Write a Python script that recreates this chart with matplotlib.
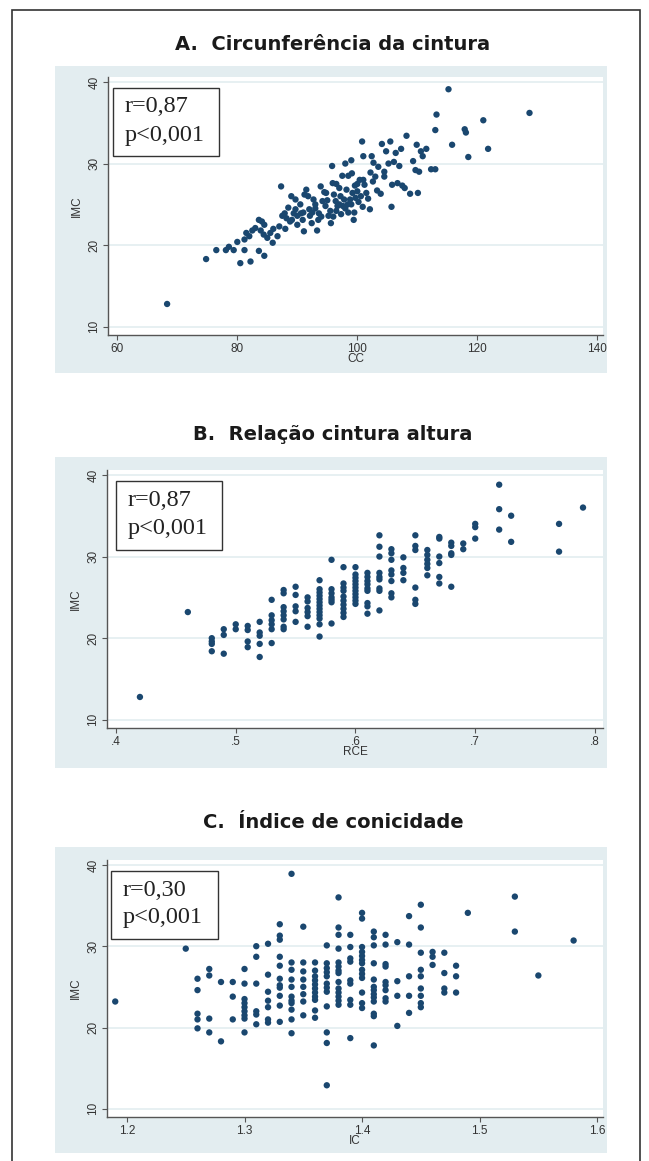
import matplotlib
matplotlib.use("Agg")
import matplotlib.pyplot as plt
from matplotlib.patches import Rectangle

# ---- data ----
# A. circunferencia da cintura (CC) x IMC
cc = [68.3, 74.8, 76.5, 78.1, 78.6, 79.4, 80.0, 80.5, 81.2, 82.2, 83.6, 84.5,
      81.5, 82.0, 82.5, 81.2, 83.0, 83.6, 84.1, 84.5, 83.9, 84.4, 85.0, 85.9,
      85.5, 86.7, 87.0, 87.3, 87.5, 87.9, 88.2, 88.8, 88.5, 89.1, 89.4, 89.7,
      90.0, 89.7, 90.5, 90.6, 90.9, 91.1, 91.2, 91.5, 91.8, 92.0, 92.1, 92.4,
      92.7, 93.0, 93.3, 93.5, 93.6, 93.9, 94.2, 94.7, 94.8, 95.2, 95.5, 95.6,
      95.8, 95.9, 96.1, 96.4, 96.5, 96.7, 97.0, 97.2, 97.3, 97.6, 97.8, 98.0,
      98.2, 98.4, 98.5, 98.8, 99.0, 99.1, 99.2, 99.4, 99.6, 99.7, 100.0, 100.2,
      100.4, 100.6, 100.8, 100.9, 101.0, 101.2, 101.5, 101.8, 102.1, 102.2, 102.4, 102.6,
      102.7, 103.0, 103.3, 103.9, 104.1, 104.5, 104.8, 105.2, 105.5, 105.7, 105.8, 106.1,
      106.4, 106.7, 107.0, 107.3, 107.5, 107.9, 108.2, 108.8, 109.3, 109.7, 109.9, 110.1,
      110.3, 110.6, 110.9, 111.5, 112.3, 113.0, 113.0, 113.2, 115.2, 115.8, 117.9, 118.1,
      118.5, 121.0, 121.8, 128.7,
      93.0, 94.0, 95.0, 96.0, 97.0, 98.0, 99.0, 92.5, 91.0, 90.0, 88.0, 86.0,
      89.0, 94.5, 96.5, 98.5, 100.0, 101.0, 97.5, 99.5, 103.5, 104.5]
imc_cc = [12.8, 18.3, 19.4, 19.4, 19.8, 19.4, 20.4, 17.8, 19.4, 18.0, 19.3, 18.7,
          21.5, 21.1, 21.8, 20.7, 22.1, 23.1, 22.9, 22.5, 21.8, 21.3, 20.9, 20.3,
          21.5, 21.1, 22.3, 27.2, 23.6, 23.9, 23.3, 22.9, 24.6, 23.1, 23.9, 24.4,
          23.6, 25.6, 25.0, 23.9, 23.1, 21.7, 26.2, 26.8, 26.0, 24.4, 23.6, 22.7,
          25.6, 25.0, 21.8, 23.1, 23.9, 27.2, 25.4, 24.8, 26.4, 23.6, 24.2, 22.7,
          29.7, 27.6, 26.2, 25.4, 24.2, 24.8, 27.0, 26.0, 23.8, 24.8, 25.6, 30.0,
          26.8, 25.0, 24.0, 25.6, 30.4, 28.8, 26.4, 23.1, 27.3, 25.8, 26.6, 25.3,
          28.0, 26.0, 32.7, 24.7, 30.9, 27.4, 26.4, 25.7, 24.4, 28.9, 30.9, 27.8,
          30.1, 28.4, 26.7, 26.3, 32.4, 28.4, 31.5, 30.0, 32.7, 24.7, 27.4, 30.2,
          31.3, 27.6, 29.7, 31.8, 27.3, 27.0, 33.4, 26.3, 30.3, 29.2, 32.3, 26.4,
          29.0, 31.5, 30.9, 31.8, 29.3, 29.3, 34.1, 36.0, 39.1, 32.3, 34.2, 33.8,
          30.8, 35.3, 31.8, 36.2,
          24.5, 23.5, 25.5, 23.5, 25.0, 24.5, 25.0, 24.0, 24.0, 22.5, 22.0, 22.0,
          26.0, 26.5, 27.5, 28.5, 27.5, 28.0, 28.5, 24.0, 29.6, 29.0]

# B. relacao cintura altura (RCE) x IMC, one list of IMC values per RCE column
rce_cols = [0.42, 0.46, 0.48, 0.49, 0.50, 0.51, 0.52, 0.53, 0.54, 0.55, 0.56, 0.57,
            0.58, 0.59, 0.60, 0.61, 0.62, 0.63, 0.64, 0.65, 0.66, 0.67, 0.68, 0.69,
            0.70, 0.72, 0.73, 0.77, 0.79]
rce_imc = [[12.8], [23.2], [20.0, 19.6, 19.3, 18.4], [21.1, 20.4, 18.1], [21.7, 21.1],
           [21.5, 21.0, 19.6, 18.9], [22.0, 20.7, 20.3, 19.3, 17.7],
           [24.7, 22.8, 22.2, 21.7, 21.1, 19.4],
           [25.9, 25.5, 23.8, 23.3, 22.8, 22.3, 21.4, 21.1],
           [26.3, 25.3, 23.9, 23.3, 22.0], [25.0, 24.5, 23.7, 23.2, 22.7, 21.4],
           [27.1, 26.0, 25.6, 25.2, 24.8, 24.4, 24.0, 23.6, 23.2, 22.8, 22.4, 21.7, 20.2],
           [29.6, 26.0, 25.5, 25.0, 24.7, 24.4, 21.8],
           [28.7, 26.7, 26.2, 25.8, 25.1, 24.6, 24.1, 23.6, 23.1, 22.6],
           [28.7, 27.8, 27.4, 27.0, 26.6, 26.2, 25.8, 25.4, 25.0, 24.6, 24.2],
           [28.0, 27.5, 27.0, 26.6, 26.1, 25.8, 24.3, 23.9, 23.0],
           [32.6, 31.2, 30.0, 28.0, 27.5, 27.2, 26.1, 25.8, 23.4],
           [30.9, 30.4, 29.6, 28.3, 27.8, 27.0, 25.5, 25.0],
           [29.9, 28.6, 28.0, 27.1], [32.6, 31.3, 30.8, 26.2, 24.7, 24.2],
           [30.8, 30.2, 29.6, 29.1, 28.6, 27.7], [32.4, 32.2, 30.0, 29.2, 27.5, 26.7],
           [31.7, 31.3, 30.4, 30.2, 26.3], [31.6, 30.9], [34.0, 33.6, 32.2],
           [38.8, 35.8, 33.3], [35.0, 31.8], [34.0, 30.6], [36.0]]

# C. indice de conicidade (IC) x IMC, one list of IMC values per IC column
ic_cols = [1.19, 1.25, 1.26, 1.27, 1.28, 1.29, 1.30, 1.31, 1.32, 1.33, 1.34, 1.35,
           1.36, 1.37, 1.38, 1.39, 1.40, 1.41, 1.42, 1.43, 1.44, 1.45, 1.46, 1.47,
           1.48, 1.49, 1.53, 1.55, 1.58]
ic_imc = [[23.2], [29.7], [26.0, 24.6, 21.7, 21.0, 19.9], [27.2, 26.4, 21.1, 19.4],
          [25.6, 18.3], [25.6, 23.8, 21.0],
          [27.2, 25.4, 23.5, 23.0, 22.5, 22.0, 21.5, 21.1, 19.4],
          [30.0, 28.7, 25.4, 22.0, 21.6, 20.4],
          [30.3, 26.5, 24.4, 23.3, 22.5, 21.0, 20.6],
          [32.7, 31.3, 30.8, 28.7, 27.6, 26.0, 25.2, 24.9, 23.9, 22.7, 20.7],
          [38.9, 28.0, 27.1, 25.9, 25.0, 23.8, 23.3, 23.0, 22.2, 21.0, 19.3],
          [32.4, 28.0, 26.9, 25.9, 25.0, 24.1, 23.2, 21.5],
          [28.0, 27.0, 26.3, 25.8, 25.3, 24.8, 24.3, 23.8, 23.4, 22.1, 21.2],
          [30.1, 27.9, 27.3, 26.8, 26.3, 25.4, 24.9, 24.4, 22.6, 19.4, 18.1, 12.9],
          [36.0, 32.3, 31.4, 29.7, 28.0, 27.5, 27.0, 26.7, 25.6, 24.8, 24.3, 23.8, 23.3, 22.8],
          [31.4, 29.9, 28.5, 28.1, 25.8, 25.4, 23.4, 22.8, 18.7],
          [34.1, 33.4, 29.9, 29.3, 28.8, 28.3, 27.9, 27.1, 26.6, 26.1, 24.3, 23.0, 22.4],
          [31.8, 31.1, 30.1, 27.9, 25.9, 25.0, 24.6, 24.1, 23.7, 23.2, 21.7, 21.4, 17.8],
          [31.4, 30.2, 27.8, 27.5, 25.6, 25.2, 24.6, 23.6, 23.2],
          [30.5, 25.7, 23.9, 20.2], [33.7, 30.2, 26.3, 23.9, 21.8],
          [35.1, 32.3, 29.2, 27.1, 26.3, 24.8, 23.9, 23.0, 22.5],
          [29.3, 28.7, 27.7], [29.2, 26.7, 24.8, 24.3], [27.6, 26.3, 24.3],
          [34.1], [36.1, 31.8], [26.4], [30.7]]

rce = [x for x, ys in zip(rce_cols, rce_imc) for _ in ys]
imc_rce = [y for ys in rce_imc for y in ys]
ic = [x for x, ys in zip(ic_cols, ic_imc) for _ in ys]
imc_ic = [y for ys in ic_imc for y in ys]

# ---- layout (pixels of the 649x1161 picture) ----
W, H = 649, 1161
BG = "#E3EDF0"
NAVY = "#1A476F"

fig = plt.figure(figsize=(W / 100, H / 100), dpi=100)


def frect(l, t, r, b):
    return [l / W, 1 - b / H, (r - l) / W, (b - t) / H]


# outer frame
fig.patches.append(Rectangle((12 / W, -0.01), (640 - 12) / W, 1 - 10 / H + 0.01,
                             transform=fig.transFigure, fill=False,
                             edgecolor="#333333", lw=1.2, zorder=-2))

panels = [
    dict(title="A.  Circunferência da cintura", ty=45, bg=(55, 66, 607, 373),
         ax=(108, 77, 603, 335), box=(113, 88, 219, 156),
         x=cc, y=imc_cc, xlim=(58.45, 140.95), xticks=[60, 80, 100, 120, 140],
         xlabels=["60", "80", "100", "120", "140"], xlab="CC", r="r=0,87"),
    dict(title="B.  Relação cintura altura", ty=434, bg=(55, 457, 607, 768),
         ax=(107, 470, 603, 728), box=(116, 481, 222, 550),
         x=rce, y=imc_rce, xlim=(0.3925, 0.8067), xticks=[0.4, 0.5, 0.6, 0.7, 0.8],
         xlabels=[".4", ".5", ".6", ".7", ".8"], xlab="RCE", r="r=0,87"),
    dict(title="C.  Índice de conicidade", ty=823, bg=(55, 847, 607, 1153),
         ax=(107, 860, 603, 1117), box=(111, 871, 218, 939),
         x=ic, y=imc_ic, xlim=(1.183, 1.605), xticks=[1.2, 1.3, 1.4, 1.5, 1.6],
         xlabels=["1.2", "1.3", "1.4", "1.5", "1.6"], xlab="IC", r="r=0,30"),
]

for p in panels:
    fig.text(333 / W, 1 - p["ty"] / H, p["title"], ha="center", va="center",
             fontsize=14, fontweight="bold", family="DejaVu Sans", color="#1a1a1a")
    l, t, r, b = p["bg"]
    fig.patches.append(Rectangle((l / W, 1 - b / H), (r - l) / W, (b - t) / H,
                                 transform=fig.transFigure, facecolor=BG,
                                 edgecolor="none", zorder=-1))
    ax = fig.add_axes(frect(*p["ax"]))
    ax.set_facecolor("white")
    ax.scatter(p["x"], p["y"], s=21, color=NAVY, edgecolors="none", zorder=3)
    ax.set_xlim(*p["xlim"])
    ax.set_ylim(9.0, 40.6)
    ax.set_yticks([10, 20, 30, 40])
    ax.set_yticklabels(["10", "20", "30", "40"], rotation=90, va="center",
                       family="Liberation Sans", fontsize=8.5, color="#333333")
    ax.set_xticks(p["xticks"])
    ax.set_xticklabels(p["xlabels"], family="Liberation Sans", fontsize=8.5,
                       color="#333333")
    ax.yaxis.grid(True, color=BG, lw=1.2, zorder=0)
    ax.set_axisbelow(True)
    for s in ["top", "right"]:
        ax.spines[s].set_visible(False)
    for s in ["left", "bottom"]:
        ax.spines[s].set_color("#555555")
        ax.spines[s].set_linewidth(1.0)
    ax.tick_params(direction="out", length=3.5, width=0.8, color="#555555", pad=2)
    ax.set_xlabel(p["xlab"], family="Liberation Sans", fontsize=8.5, color="#333333",
                  labelpad=-1)
    ax.set_ylabel("IMC", family="Liberation Sans", fontsize=8.5, color="#333333",
                  labelpad=4)

    bl, bt, br, bb = p["box"]
    fig.patches.append(Rectangle((bl / W, 1 - bb / H), (br - bl) / W, (bb - bt) / H,
                                 transform=fig.transFigure, facecolor="white",
                                 edgecolor="#333333", lw=1.0, zorder=5))
    tx = (bl + 12) / W
    fig.text(tx, 1 - (bt + 19) / H, p["r"], ha="left", va="center",
             family="Liberation Serif", fontsize=17.5, color="#222222", zorder=6)
    fig.text(tx, 1 - (bt + 47) / H, "p<0,001", ha="left", va="center",
             family="Liberation Serif", fontsize=17.5, color="#222222", zorder=6)

fig.savefig("out.png", dpi=100)
